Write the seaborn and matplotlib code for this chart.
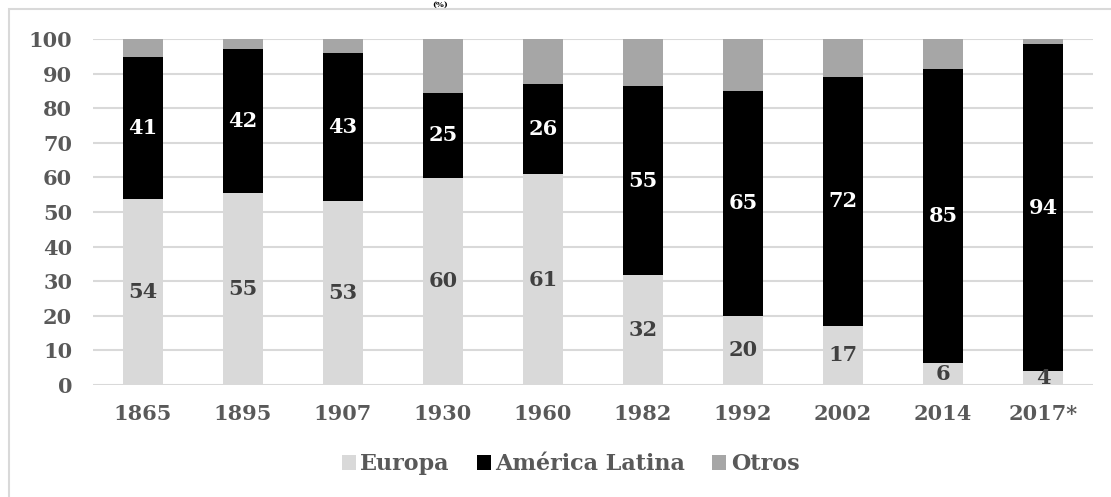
import matplotlib
matplotlib.use("Agg")
import matplotlib.pyplot as plt
import seaborn as sns
import numpy as np
import pandas as pd
from matplotlib.patches import Rectangle, Patch

# ---- data ----
years = ["1865", "1895", "1907", "1930", "1960", "1982", "1992", "2002", "2014", "2017*"]
europa = [53.7, 55.4, 53.3, 59.9, 60.9, 31.8, 20.0, 17.1, 6.3, 4.1]
latina = [41.2, 41.8, 42.7, 24.6, 26.1, 54.6, 65.1, 71.9, 85.1, 94.4]
otros = [5.1, 2.8, 4.0, 15.5, 13.0, 13.6, 14.9, 11.0, 8.6, 1.5]
europa_labels = ["54", "55", "53", "60", "61", "32", "20", "17", "6", "4"]
latina_labels = ["41", "42", "43", "25", "26", "55", "65", "72", "85", "94"]
series_names = ["Europa", "América Latina", "Otros"]
colors = ["#d9d9d9", "#000000", "#a6a6a6"]
yticks = list(range(0, 101, 10))

sns.set_theme(style="white")
plt.rcParams["font.family"] = ["DejaVu Serif"]
plt.rcParams["font.weight"] = "bold"

df = pd.DataFrame({"year": years, "europa": europa, "latina": latina, "otros": otros})
df["cum2"] = df["europa"] + df["latina"]
df["cum3"] = df["cum2"] + df["otros"]

fig = plt.figure(figsize=(11.11, 4.97), dpi=100)
ax = fig.add_axes([93 / 1111, 1 - 385 / 497, 1000 / 1111, 346 / 497])

w = 0.4
kw = dict(width=w, ax=ax, saturation=1, linewidth=0, edgecolor="none")
sns.barplot(data=df, x="year", y="cum3", color=colors[2], zorder=3, **kw)
sns.barplot(data=df, x="year", y="cum2", color=colors[1], zorder=4, **kw)
sns.barplot(data=df, x="year", y="europa", color=colors[0], zorder=5, **kw)

for i in range(len(years)):
    ax.text(i, europa[i] / 2, europa_labels[i], ha="center", va="center",
            fontsize=15, fontweight="bold", color="#404040", zorder=6)
    ax.text(i, europa[i] + latina[i] / 2, latina_labels[i], ha="center", va="center",
            fontsize=15, fontweight="bold", color="white", zorder=6)

ax.set_ylim(0, 100)
ax.set_xlim(-0.5, len(years) - 0.5)
ax.set_yticks(yticks)
ax.set_yticklabels([str(t) for t in yticks])
ax.yaxis.grid(True, color="#d9d9d9", linewidth=1.5, zorder=0)
ax.set_axisbelow(True)
for s in ax.spines.values():
    s.set_visible(False)
ax.tick_params(axis="both", length=0, labelsize=15, labelcolor="#595959")
ax.tick_params(axis="y", pad=15)
ax.tick_params(axis="x", pad=14)
for lab in ax.get_xticklabels() + ax.get_yticklabels():
    lab.set_fontweight("bold")
ax.set_xlabel("")
ax.set_ylabel("")

handles = [Patch(facecolor=c, edgecolor="none") for c in colors]
leg = fig.legend(handles, series_names, loc="center", bbox_to_anchor=(570.5 / 1111, 0.066),
                 ncol=3, frameon=False, handlelength=0.65, handleheight=0.65,
                 handletextpad=0.2, columnspacing=1.2,
                 prop={"family": "DejaVu Serif", "weight": "bold", "size": 16})
for t in leg.get_texts():
    t.set_color("#595959")

# chart area border
fig.patches.append(Rectangle((9 / 1111, -0.1), 1.2, 1 - 9 / 497 + 0.1,
                             transform=fig.transFigure, fill=False,
                             edgecolor="#d9d9d9", linewidth=1.5))
# title remnant at the very top
fig.text(440 / 1111, 1 - 0.5 / 497, "(%)", ha="center", va="top",
         fontsize=6, fontweight="bold", color="black")

fig.savefig("out.png", dpi=100)
